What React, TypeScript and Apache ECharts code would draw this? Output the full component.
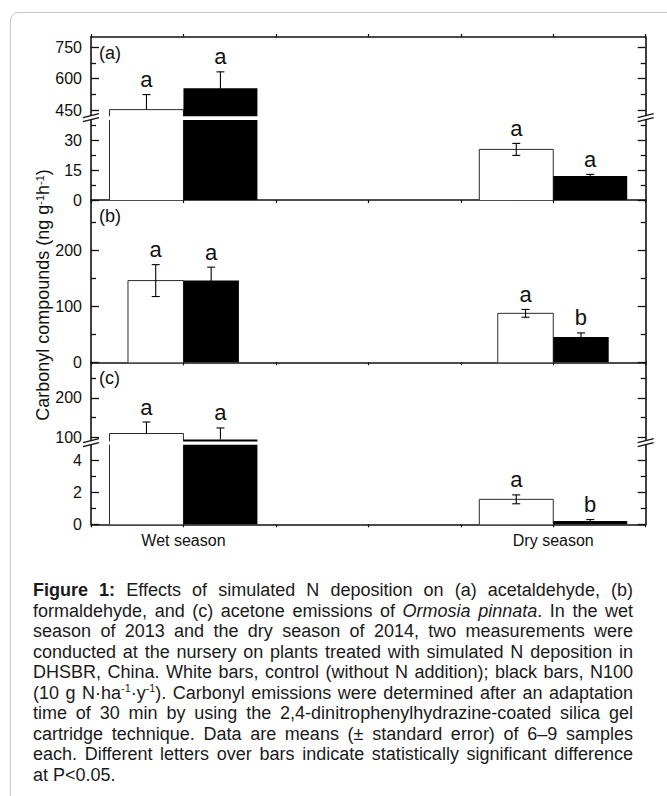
import React, { useEffect, useRef } from "react";
import * as echarts from "echarts";

// ---------------- data ----------------
const categories = ["Wet season", "Dry season"];

// (a) acetaldehyde
const acetControl = [452, 25.3];
const acetControlSE = [72, 3];
const acetN100 = [555, 12];
const acetN100SE = [78, 0.8];
const acetControlLetters = ["a", "a"];
const acetN100Letters = ["a", "a"];

// (b) formaldehyde
const formControl = [146, 87.5];
const formControlSE = [28.5, 7];
const formN100 = [146, 45];
const formN100SE = [24, 7.5];
const formControlLetters = ["a", "a"];
const formN100Letters = ["a", "b"];

// (c) acetone
const acetoneControl = [110, 1.57];
const acetoneControlSE = [29, 0.28];
const acetoneN100 = [95, 0.2];
const acetoneN100SE = [29, 0.1];
const acetoneControlLetters = ["a", "a"];
const acetoneN100Letters = ["a", "b"];

// y tick labels
const acetUpperTicks = [450, 600, 750];
const acetUpperMinor = [525, 675];
const acetLowerTicks = [0, 15, 30];
const acetLowerMinor = [7.5, 22.5, 37.5];
const formTicks = [0, 100, 200];
const formMinor = [50, 150, 250];
const acetoneUpperTicks = [100, 200];
const acetoneUpperMinor = [150, 250];
const acetoneLowerTicks = [0, 2, 4];
const acetoneLowerMinor = [1, 3];

const panelLabels = ["(a)", "(b)", "(c)"];

// ---------------- layout / style ----------------
const FONT = "'Liberation Sans', Arial, Helvetica, sans-serif";
const INK = "#111";
// x axis: 7 slots (6 intervals); categories sit on slots 1 and 5
const SLOT_COUNT = 7;
const catSlot = categories.map((_, i) => 1 + 4 * i);
const xSlots = Array.from({ length: SLOT_COUNT }, (_, s) => {
  const k = catSlot.indexOf(s);
  return k >= 0 ? categories[k] : "";
});

const LEFT = 91;
const RIGHT = 667 - 645.7;

const panels = [
  { control: acetControl, controlSE: acetControlSE, n100: acetN100, n100SE: acetN100SE, cL: acetControlLetters, nL: acetN100Letters, barFrac: 0.8 },
  { control: formControl, controlSE: formControlSE, n100: formN100, n100SE: formN100SE, cL: formControlLetters, nL: formN100Letters, barFrac: 0.6 },
  { control: acetoneControl, controlSE: acetoneControlSE, n100: acetoneN100, n100SE: acetoneN100SE, cL: acetoneControlLetters, nL: acetoneN100Letters, barFrac: 0.8 },
];

const segments = [
  { panel: 0, top: 37, height: 79.3, min: 420, max: 800, major: acetUpperTicks, minor: acetUpperMinor, xLine: true, xPos: "top", xLabels: false },
  { panel: 0, top: 120, height: 80, min: 0, max: 40, major: acetLowerTicks, minor: acetLowerMinor, xLine: true, xPos: "bottom", xLabels: false },
  { panel: 1, top: 200, height: 162.3, min: 0, max: 290, major: formTicks, minor: formMinor, xLine: true, xPos: "bottom", xLabels: false },
  { panel: 2, top: 362.3, height: 79.1, min: 90, max: 290, major: acetoneUpperTicks, minor: acetoneUpperMinor, xLine: false, xPos: "bottom", xLabels: false },
  { panel: 2, top: 444.8, height: 79.5, min: 0, max: 5, major: acetoneLowerTicks, minor: acetoneLowerMinor, xLine: true, xPos: "bottom", xLabels: true },
];

const breaks = [
  { y: (37 + 79.3 + 120) / 2 - 0.5 },
  { y: (362.3 + 79.1 + 444.8) / 2 - 0.5 },
];

function makeRender(panel: any, seg: any) {
  return (params: any, api: any) => {
    const i = params.dataIndex;
    const slot = catSlot[i];
    const band = api.size([1, 0])[0];
    const w = band * panel.barFrac;
    const cx = api.coord([slot, seg.min])[0];
    const yOf = (v: number) => api.coord([slot, v])[1];
    const children: any[] = [];
    const bar = (x0: number, x1: number, v: number, se: number, letter: string, filled: boolean) => {
      if (v <= seg.min) return;
      const inside = v <= seg.max;
      const yTop = yOf(Math.min(v, seg.max));
      const yBot = yOf(seg.min);
      children.push({
        type: "rect",
        shape: { x: x0, y: yTop, width: x1 - x0, height: yBot - yTop },
        style: { fill: filled ? "#000" : "#fff" },
      });
      if (!filled) {
        const st = { stroke: "#2a2a2a", lineWidth: 1 };
        children.push({ type: "line", shape: { x1: x0, y1: yTop, x2: x0, y2: yBot }, style: st });
        children.push({ type: "line", shape: { x1: x1, y1: yTop, x2: x1, y2: yBot }, style: st });
        if (inside) children.push({ type: "line", shape: { x1: x0, y1: yTop, x2: x1, y2: yTop }, style: st });
      }
      if (!inside) return;
      const xm = (x0 + x1) / 2;
      const yHi = yOf(v + se);
      const showLow = v - se >= seg.min;
      const yLo = showLow ? yOf(v - se) : yTop;
      const es = { stroke: "#000", lineWidth: 1.1 };
      children.push({ type: "line", shape: { x1: xm, y1: yHi, x2: xm, y2: yLo }, style: es });
      children.push({ type: "line", shape: { x1: xm - 4, y1: yHi, x2: xm + 4, y2: yHi }, style: es });
      if (showLow) children.push({ type: "line", shape: { x1: xm - 4, y1: yLo, x2: xm + 4, y2: yLo }, style: es });
      children.push({
        type: "text",
        x: xm,
        y: yHi - 4,
        style: { text: letter, fontSize: 22, fontFamily: FONT, fill: INK, align: "center", verticalAlign: "bottom" },
      });
    };
    bar(cx - w, cx, panel.control[i], panel.controlSE[i], panel.cL[i], false);
    bar(cx, cx + w, panel.n100[i], panel.n100SE[i], panel.nL[i], true);
    return { type: "group", children };
  };
}

function buildOption() {
  const grid: any[] = [];
  const xAxis: any[] = [];
  const yAxis: any[] = [];
  const series: any[] = [];
  segments.forEach((seg, g) => {
    grid.push({ left: LEFT, right: RIGHT, top: seg.top, height: seg.height, containLabel: false });
    xAxis.push({
      type: "category",
      gridIndex: g,
      data: xSlots,
      boundaryGap: false,
      position: seg.xPos,
      axisLine: { show: seg.xLine, onZero: false, lineStyle: { color: INK, width: 1.6 } },
      axisTick: { show: seg.xLine, inside: false, length: 3, interval: 0, lineStyle: { color: INK, width: 1.2 } },
      axisLabel: {
        show: seg.xLabels,
        interval: 0,
        margin: 8,
        fontSize: 16,
        fontFamily: FONT,
        color: INK,
      },
      splitLine: { show: false },
    });
    const base = { type: "value", gridIndex: g, min: seg.min, max: seg.max, splitLine: { show: false } };
    const firstY = yAxis.length;
    ["left", "right"].forEach((pos) => {
      yAxis.push({
        ...base,
        position: pos,
        axisLine: { show: true, onZero: false, lineStyle: { color: INK, width: 1.6 } },
        axisTick: { show: true, inside: true, length: 8, customValues: seg.major, lineStyle: { color: INK, width: 1.3 } },
        axisLabel: {
          show: pos === "left",
          customValues: seg.major,
          margin: 9,
          fontSize: 16,
          fontFamily: FONT,
          color: INK,
        },
      });
      yAxis.push({
        ...base,
        position: pos,
        axisLine: { show: false },
        axisTick: { show: true, inside: true, length: 5, customValues: seg.minor, lineStyle: { color: INK, width: 1.3 } },
        axisLabel: { show: false },
      });
    });
    const panel = panels[seg.panel];
    series.push({
      type: "custom",
      xAxisIndex: g,
      yAxisIndex: firstY,
      clip: false,
      data: categories.map((_, i) => [catSlot[i], panel.control[i]]),
      renderItem: makeRender(panel, seg),
    });
  });

  const graphic: any[] = [];
  const panelTops = [37, 200, 362.3];
  panelLabels.forEach((t, k) => {
    graphic.push({
      type: "text",
      left: 99,
      top: panelTops[k] + 7,
      style: { text: t, fontSize: 18, fontFamily: FONT, fill: INK },
    });
  });
  graphic.push({
    type: "text",
    x: 43,
    y: 295,
    rotation: Math.PI / 2,
    style: {
      text: "Carbonyl compounds (ng g{sup|-1}h{sup|-1})",
      fontSize: 18,
      fontFamily: FONT,
      fill: INK,
      align: "center",
      verticalAlign: "middle",
      rich: {
        sup: { fontSize: 11, fontFamily: FONT, fill: INK, verticalAlign: "top", lineHeight: 18 },
      },
    },
  });
  const axX = [LEFT, 667 - RIGHT];
  breaks.forEach((b) => {
    axX.forEach((x) => {
      const y = b.y;
      graphic.push({
        type: "polygon",
        shape: { points: [[x - 8, y], [x + 8, y - 4], [x + 8, y], [x - 8, y + 4]] },
        style: { fill: "#fff" },
        z: 10,
      });
      graphic.push({
        type: "line",
        shape: { x1: x - 8, y1: y, x2: x + 8, y2: y - 4 },
        style: { stroke: INK, lineWidth: 1.4 },
        z: 11,
      });
      graphic.push({
        type: "line",
        shape: { x1: x - 8, y1: y + 4, x2: x + 8, y2: y },
        style: { stroke: INK, lineWidth: 1.4 },
        z: 11,
      });
    });
  });

  return { animation: false, backgroundColor: "transparent", grid, xAxis, yAxis, series, graphic };
}

const lineStyle: React.CSSProperties = {
  textAlign: "justify",
  textAlignLast: "justify" as any,
  height: 20.5,
  lineHeight: "20.5px",
  whiteSpace: "nowrap",
};

export default function App() {
  const ref = useRef<HTMLDivElement>(null);
  useEffect(() => {
    const chart = echarts.init(ref.current as HTMLDivElement, null, { renderer: "svg" });
    chart.setOption(buildOption());
    return () => chart.dispose();
  }, []);
  const sup: React.CSSProperties = { fontSize: "0.6em", verticalAlign: "super", lineHeight: 0 };
  return (
    <div
      style={{
        position: "absolute",
        left: 0,
        top: 0,
        width: 667,
        height: 796,
        overflow: "hidden",
        background: "#fff",
        fontFamily: FONT,
      }}
    >
      <div
        style={{
          position: "absolute",
          left: 10,
          top: 12,
          width: 720,
          height: 900,
          border: "1.5px solid #c8c8c8",
          borderRadius: 8,
          boxSizing: "border-box",
        }}
      />
      <div ref={ref} style={{ position: "absolute", left: 0, top: 0, width: 667, height: 560 }} />
      <div
        style={{
          position: "absolute",
          left: 33,
          top: 580,
          width: 600,
          fontSize: 18,
          color: "#1a1a1a",
        }}
      >
        <div style={lineStyle}>
          <b>Figure 1:</b> Effects of simulated N deposition on (a) acetaldehyde, (b)
        </div>
        <div style={lineStyle}>
          formaldehyde, and (c) acetone emissions of <i>Ormosia pinnata</i>. In the wet
        </div>
        <div style={lineStyle}>season of 2013 and the dry season of 2014, two measurements were</div>
        <div style={lineStyle}>conducted at the nursery on plants treated with simulated N deposition in</div>
        <div style={lineStyle}>DHSBR, China. White bars, control (without N addition); black bars, N100</div>
        <div style={lineStyle}>
          (10 g N·ha<span style={sup}>-1</span>·y<span style={sup}>-1</span>). Carbonyl emissions were determined after an adaptation
        </div>
        <div style={lineStyle}>time of 30 min by using the 2,4-dinitrophenylhydrazine-coated silica gel</div>
        <div style={lineStyle}>cartridge technique. Data are means (± standard error) of 6–9 samples</div>
        <div style={lineStyle}>each. Different letters over bars indicate statistically significant difference</div>
        <div style={{ ...lineStyle, textAlignLast: "left" as any }}>at P&lt;0.05.</div>
      </div>
    </div>
  );
}
